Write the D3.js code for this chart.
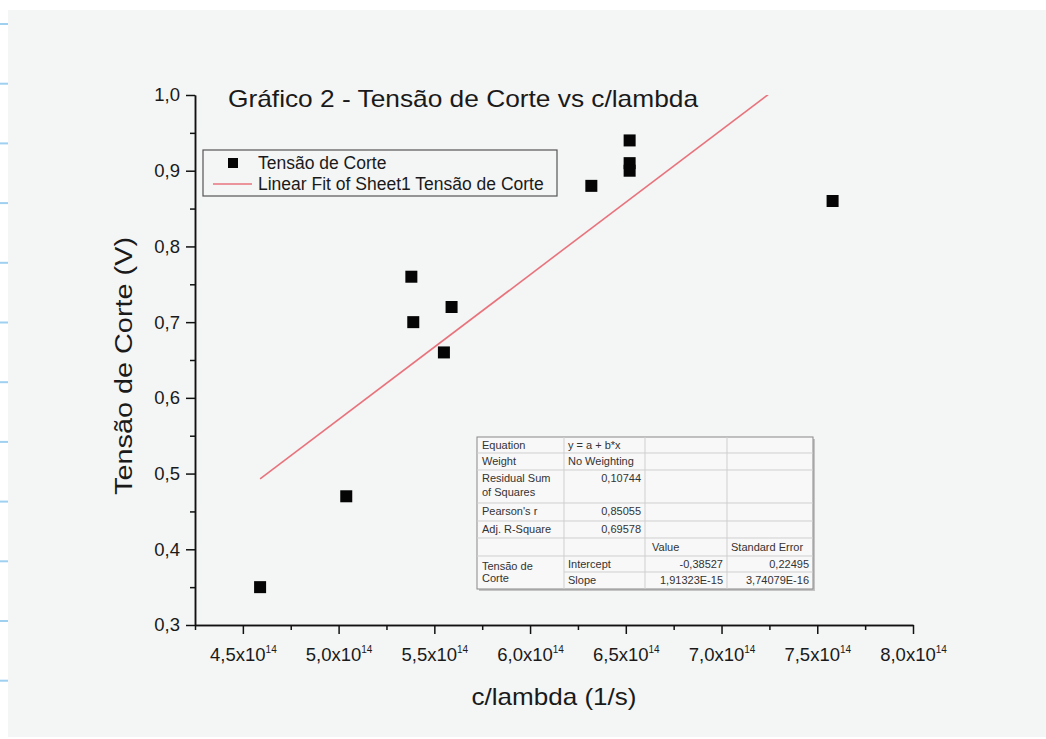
<!DOCTYPE html>
<html>
<head>
<meta charset="utf-8">
<script src="https://cdn.jsdelivr.net/npm/d3@7"></script>
<style>
  body { margin: 0; background: #fff; }
  svg { display: block; font-family: "Liberation Sans", Arial, sans-serif; }
</style>
</head>
<body>
<svg></svg>
<script>
const width = 1046;
const height = 739;

// data
const frequency = [4.59e14, 5.04e14, 5.38e14, 5.39e14, 5.55e14, 5.59e14, 6.32e14, 6.52e14, 6.52e14, 6.52e14, 7.58e14];
const voltage = [0.35, 0.47, 0.76, 0.70, 0.66, 0.72, 0.88, 0.94, 0.91, 0.90, 0.86];

const fitIntercept = -0.38527;
const fitSlope = 1.91323e-15;

const xTickValues = [4.5e14, 5.0e14, 5.5e14, 6.0e14, 6.5e14, 7.0e14, 7.5e14, 8.0e14];
const xTickLabels = ['4,5', '5,0', '5,5', '6,0', '6,5', '7,0', '7,5', '8,0'];
const yTickValues = [0.3, 0.4, 0.5, 0.6, 0.7, 0.8, 0.9, 1.0];
const yTickLabels = ['0,3', '0,4', '0,5', '0,6', '0,7', '0,8', '0,9', '1,0'];

const statLabels = ['Equation', 'Weight', 'Residual Sum|of Squares', "Pearson's r", 'Adj. R-Square'];
const statValues = ['y = a + b*x', 'No Weighting', '0,10744', '0,85055', '0,69578'];
const paramNames = ['Intercept', 'Slope'];
const paramValues = ['-0,38527', '1,91323E-15'];
const paramErrors = ['0,22495', '3,74079E-16'];

const svg = d3.select('svg')
  .attr('width', width)
  .attr('height', height);

// ====================================
// Background (scanned page look)
// ====================================
svg.append('rect')
  .attr('x', 8).attr('y', 10)
  .attr('width', width - 8).attr('height', 727)
  .attr('fill', '#f4f5f5');

svg.selectAll('.ruled')
  .data(d3.range(12))
  .enter()
  .append('line')
  .attr('x1', 0).attr('x2', 8)
  .attr('y1', i => 24 + i * 59.7)
  .attr('y2', i => 24 + i * 59.7)
  .attr('stroke', '#9fd0f0')
  .attr('stroke-width', 2);

// ====================================
// Scales and axes
// ====================================
const xScale = d3.scaleLinear()
  .domain([4.25e14, 8.0e14])
  .range([195, 913]);

const yScale = d3.scaleLinear()
  .domain([0.3, 1.0])
  .range([625, 95]);

const xMinor = d3.range(4.25e14, 8.0e14, 0.5e14);
const yMinor = d3.range(0.35, 1.0, 0.1);

svg.append('g')
  .attr('transform', 'translate(0, 625)')
  .call(d3.axisBottom(xScale).tickValues(xMinor).tickSize(5).tickSizeOuter(0).tickFormat(''));

svg.append('g')
  .attr('transform', 'translate(195, 0)')
  .call(d3.axisLeft(yScale).tickValues(yMinor).tickSize(5).tickSizeOuter(0).tickFormat(''));

const xAxisG = svg.append('g')
  .attr('transform', 'translate(0, 625)')
  .call(d3.axisBottom(xScale)
    .tickValues(xTickValues)
    .tickSize(9)
    .tickSizeOuter(0)
    .tickPadding(14)
    .tickFormat((d, i) => xTickLabels[i]));

xAxisG.selectAll('text')
  .each(function(d, i) {
    const t = d3.select(this).text('');
    t.append('tspan').text(xTickLabels[i] + 'x10');
    t.append('tspan').attr('dy', -8).attr('font-size', 10).text('14');
  });

const yAxisG = svg.append('g')
  .attr('transform', 'translate(195, 0)')
  .call(d3.axisLeft(yScale)
    .tickValues(yTickValues)
    .tickSize(9)
    .tickSizeOuter(0)
    .tickPadding(6)
    .tickFormat((d, i) => yTickLabels[i]));

svg.selectAll('.domain, .tick line')
  .attr('stroke', '#111')
  .attr('stroke-width', 1.5);

svg.selectAll('.tick text')
  .attr('fill', '#1a1a1a')
  .attr('font-size', 18.5);

// ====================================
// Fit line and points
// ====================================
svg.append('clipPath')
  .attr('id', 'plot-clip')
  .append('rect')
  .attr('x', 195).attr('y', 95)
  .attr('width', 718).attr('height', 530);

const fitX = d3.extent(frequency);
const fitLine = d3.line()
  .x(d => xScale(d))
  .y(d => yScale(fitIntercept + fitSlope * d));

svg.append('path')
  .datum(fitX)
  .attr('d', fitLine)
  .attr('clip-path', 'url(#plot-clip)')
  .attr('fill', 'none')
  .attr('stroke', '#e8737c')
  .attr('stroke-width', 1.6);

const sq = 12;
svg.selectAll('.pt')
  .data(frequency)
  .enter()
  .append('rect')
  .attr('x', d => xScale(d) - sq / 2)
  .attr('y', (d, i) => yScale(voltage[i]) - sq / 2)
  .attr('width', sq)
  .attr('height', sq)
  .attr('fill', '#050505');

// ====================================
// Legend
// ====================================
const legend = svg.append('g');
legend.append('rect')
  .attr('x', 203).attr('y', 150)
  .attr('width', 354).attr('height', 46)
  .attr('fill', 'none')
  .attr('stroke', '#555')
  .attr('stroke-width', 1.2);
legend.append('rect')
  .attr('x', 228).attr('y', 158)
  .attr('width', 10).attr('height', 10)
  .attr('fill', '#050505');
legend.append('line')
  .attr('x1', 213).attr('x2', 252)
  .attr('y1', 184).attr('y2', 184)
  .attr('stroke', '#e8737c')
  .attr('stroke-width', 1.6);
legend.selectAll('.leg-text')
  .data(['Tensão de Corte', 'Linear Fit of Sheet1 Tensão de Corte'])
  .enter()
  .append('text')
  .attr('x', 258)
  .attr('y', (d, i) => 169 + i * 21)
  .attr('font-size', 17.5)
  .attr('fill', '#1a1a1a')
  .text(d => d);

// ====================================
// Statistics table
// ====================================
const cols = [477, 564, 645, 727, 813];
const rows = [437, 453, 470, 503, 521, 538, 556, 572, 589];
const table = svg.append('g').attr('font-size', 11).attr('fill', '#333');

table.append('rect')
  .attr('x', cols[0] + 2).attr('y', rows[0] + 2)
  .attr('width', cols[4] - cols[0]).attr('height', rows[8] - rows[0])
  .attr('fill', '#c4c4c4');
table.append('rect')
  .attr('x', cols[0]).attr('y', rows[0])
  .attr('width', cols[4] - cols[0]).attr('height', rows[8] - rows[0])
  .attr('fill', '#f8f8f8')
  .attr('stroke', '#888')
  .attr('stroke-width', 1);

rows.slice(1, 8).forEach((r, i) => {
  table.append('line')
    .attr('x1', i === 6 ? cols[1] : cols[0]).attr('x2', cols[4])
    .attr('y1', r).attr('y2', r)
    .attr('stroke', '#cfcfcf');
});
cols.slice(1, 4).forEach(c => {
  table.append('line')
    .attr('x1', c).attr('x2', c)
    .attr('y1', rows[0]).attr('y2', rows[8])
    .attr('stroke', '#cfcfcf');
});

statLabels.forEach((label, i) => {
  label.split('|').forEach((line, j) => {
    table.append('text')
      .attr('x', cols[0] + 5)
      .attr('y', rows[i] + 12 + j * 14)
      .text(line);
  });
  const numeric = i >= 2;
  table.append('text')
    .attr('x', numeric ? cols[2] - 4 : cols[1] + 4)
    .attr('y', rows[i] + 12)
    .attr('text-anchor', numeric ? 'end' : 'start')
    .text(statValues[i]);
});

table.append('text').attr('x', cols[2] + 7).attr('y', rows[5] + 13).text('Value');
table.append('text').attr('x', cols[3] + 4).attr('y', rows[5] + 13).text('Standard Error');
['Tensão de', 'Corte'].forEach((line, j) => {
  table.append('text')
    .attr('x', cols[0] + 5)
    .attr('y', rows[6] + 14 + j * 12)
    .text(line);
});
paramNames.forEach((name, i) => {
  const y = rows[6 + i] + 12;
  table.append('text').attr('x', cols[1] + 4).attr('y', y).text(name);
  table.append('text').attr('x', cols[3] - 4).attr('y', y).attr('text-anchor', 'end').text(paramValues[i]);
  table.append('text').attr('x', cols[4] - 4).attr('y', y).attr('text-anchor', 'end').text(paramErrors[i]);
});

// =================================
// Titles
// =================================
svg.append('text')
  .text('Gráfico 2 - Tensão de Corte vs c/lambda')
  .attr('x', 228)
  .attr('y', 107)
  .attr('font-size', 24)
  .attr('textLength', 470)
  .attr('lengthAdjust', 'spacingAndGlyphs')
  .attr('fill', '#1a1a1a');

svg.append('text')
  .text('c/lambda (1/s)')
  .attr('x', 554)
  .attr('y', 705)
  .attr('text-anchor', 'middle')
  .attr('font-size', 24)
  .attr('textLength', 165)
  .attr('lengthAdjust', 'spacingAndGlyphs')
  .attr('fill', '#1a1a1a');

svg.append('text')
  .text('Tensão de Corte (V)')
  .attr('transform', 'translate(132, 366) rotate(-90)')
  .attr('text-anchor', 'middle')
  .attr('font-size', 23)
  .attr('textLength', 258)
  .attr('lengthAdjust', 'spacingAndGlyphs')
  .attr('fill', '#1a1a1a');
</script>
</body>
</html>
